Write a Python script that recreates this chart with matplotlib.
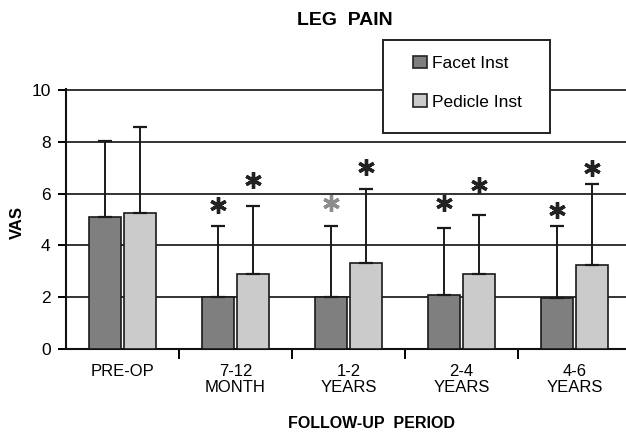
#!/usr/bin/env python3
# -*- coding: utf-8 -*-

"""
Leg pain VAS over follow-up period, facet vs pedicle instrumentation
"""

import numpy as np
import matplotlib
matplotlib.use('Agg')
import matplotlib.pyplot as plt
from matplotlib.patches import Rectangle

plt.rcParams['font.family'] = ['Liberation Sans', 'DejaVu Sans']

# data
periods = ['PRE-OP', '7-12\nMONTH', '1-2\nYEARS', '2-4\nYEARS', '4-6\nYEARS']
facet_mean = [5.11, 2.0, 2.0, 2.07, 1.97]
facet_sd = [2.94, 2.75, 2.75, 2.61, 2.78]
pedicle_mean = [5.24, 2.88, 3.31, 2.88, 3.24]
pedicle_sd = [3.33, 2.65, 2.88, 2.29, 3.12]
# asterisk heights (None = no mark)
star_facet = [None, 5.55, 5.64, 5.64, 5.37]
star_pedicle = [None, 6.53, 7.04, 6.33, 7.0]
star_facet_col = [None, '#222222', '#8c8c8c', '#222222', '#222222']

facet_col = '#7f7f7f'
pedicle_col = '#cbcbcb'

fig = plt.figure(figsize=(6.26, 4.33), dpi=100)
ax = fig.add_axes([66/626., 84/433., 565/626., (349-88.7)/433.])

x = np.arange(len(periods))
w = 0.29
gap = 0.01

ax.set_axisbelow(True)
ax.yaxis.grid(True, color='#333333', linewidth=1.4)

ax.bar(x - w/2 - gap, facet_mean, w, color=facet_col, edgecolor='#1a1a1a',
       linewidth=1.2, zorder=3)
ax.bar(x + w/2 + gap, pedicle_mean, w, color=pedicle_col, edgecolor='#1a1a1a',
       linewidth=1.2, zorder=3)

# upper error bars only
ax.errorbar(x - w/2 - gap, facet_mean, yerr=[np.zeros(5), facet_sd], fmt='none',
            ecolor='#1a1a1a', elinewidth=1.4, capsize=5, capthick=1.6, zorder=4)
ax.errorbar(x + w/2 + gap, pedicle_mean, yerr=[np.zeros(5), pedicle_sd], fmt='none',
            ecolor='#1a1a1a', elinewidth=1.4, capsize=5, capthick=1.6, zorder=4)

for i in range(len(periods)):
    if star_facet[i] is not None:
        ax.plot(x[i] - w/2 - gap, star_facet[i], marker=(6, 2, 0), ms=12, mew=2.4,
                color=star_facet_col[i], zorder=5, clip_on=False)
    if star_pedicle[i] is not None:
        ax.plot(x[i] + w/2 + gap, star_pedicle[i], marker=(6, 2, 0), ms=12, mew=2.4,
                color='#222222', zorder=5, clip_on=False)

ax.set_xlim(-0.5, 4.5)
ax.set_ylim(0, 10.05)
ax.set_yticks([0, 2, 4, 6, 8, 10])
ax.tick_params(axis='y', length=6, width=1.4, pad=5, labelsize=12.5, direction='out')

ax.set_xticks(x + 0.5)
ax.set_xticklabels([])
ax.set_xticks(x, minor=True)
ax.set_xticklabels(periods, minor=True, fontsize=12, linespacing=1.1)
ax.tick_params(axis='x', which='major', length=7, width=1.4, direction='out')
ax.tick_params(axis='x', which='minor', length=0, pad=11)

for s in ['top', 'right']:
    ax.spines[s].set_visible(False)
for s in ['left', 'bottom']:
    ax.spines[s].set_linewidth(1.5)
    ax.spines[s].set_color('#111111')

fig.text(345/626., 1 - 20.5/433., 'LEG  PAIN', ha='center', va='center',
         fontsize=14, fontweight='bold')
fig.text(371/626., 1 - 423.5/433., 'FOLLOW-UP  PERIOD', ha='center', va='center',
         fontsize=11.5, fontweight='bold')
fig.text(17/626., 1 - 223/433., 'VAS', ha='center', va='center', rotation=90,
         fontsize=12, fontweight='bold')

# legend box
box = Rectangle((383/626., 1 - 133/433.), 167/626., 93/433., transform=fig.transFigure,
                facecolor='white', edgecolor='#222222', linewidth=1.4, zorder=2)
fig.patches.append(box)

h1 = Rectangle((0, 0), 1, 1, facecolor=facet_col, edgecolor='#222222', linewidth=1.2)
h2 = Rectangle((0, 0), 1, 1, facecolor=pedicle_col, edgecolor='#222222', linewidth=1.2)
leg = fig.legend([h1, h2], ['Facet Inst', 'Pedicle Inst'], loc='upper left',
                 bbox_to_anchor=(413/626., 1 - 55.5/433.), frameon=False, fontsize=12.5,
                 borderpad=0, borderaxespad=0, handlelength=0.8, handleheight=0.75,
                 handletextpad=0.3, labelspacing=1.35)
leg.set_zorder(6)

fig.savefig('out.png', dpi=100)
